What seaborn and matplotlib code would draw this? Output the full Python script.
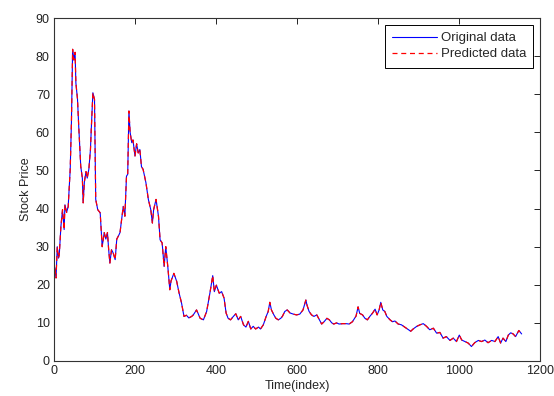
import matplotlib
matplotlib.use("Agg")
import matplotlib.pyplot as plt
import pandas as pd
import seaborn as sns

# values
time_index = [
    0, 2, 5, 8, 11, 13, 17, 21, 25, 27, 31, 35, 40, 43, 46, 49, 52, 54, 58, 61,
    66, 70, 72, 75, 79, 82, 86, 90, 92, 96, 100, 103, 108, 114, 117, 119, 124, 128, 132, 135,
    138, 142, 146, 151, 155, 159, 163, 167, 171, 175, 179, 182, 185, 188, 192, 195, 200, 204, 208, 212,
    216, 220, 227, 233, 239, 243, 246, 252, 258, 262, 267, 272, 276, 281, 286, 289, 296, 303, 309, 315,
    321, 327, 333, 340, 344, 352, 361, 369, 377, 385, 392, 396, 401, 408, 414, 420, 425, 430, 436, 443,
    449, 455, 461, 468, 474, 480, 486, 492, 498, 505, 510, 517, 524, 529, 533, 537, 543, 548, 554, 560,
    564, 570, 576, 583, 591, 599, 607, 615, 622, 625, 630, 636, 642, 649, 655, 661, 667, 674, 680, 686,
    691, 698, 704, 713, 721, 729, 737, 746, 751, 755, 762, 768, 774, 780, 787, 793, 798, 803, 807, 812,
    817, 822, 830, 836, 842, 850, 858, 866, 875, 881, 887, 896, 904, 912, 920, 928, 937, 945, 953, 961,
    969, 978, 986, 994, 1001, 1007, 1015, 1023, 1031, 1039, 1048, 1056, 1064, 1072, 1081, 1089, 1097, 1103, 1109, 1116,
    1122, 1128, 1134, 1140, 1148, 1155,
]
original_price = [
    22.5, 24.5, 21.8, 30, 27, 27.9, 35.3, 39.7, 34.5, 41, 39, 40.5, 50.3, 62.6, 81.8, 79, 81, 73, 68.7, 61.7,
    51.1, 48, 41.5, 47, 49.7, 48, 50.3, 55.5, 60.8, 70.4, 68.6, 42.4, 39.7, 38.9, 33.7, 30, 33.7, 32, 33.7, 29.2,
    25.7, 29.2, 28.4, 26.6, 32, 32.8, 33.7, 37.1, 40.6, 38, 48.5, 49, 65.6, 60, 57.3, 58, 53.8, 57, 54.6, 55.5,
    51, 50.3, 46.8, 42.4, 39.7, 36.2, 39.7, 42.4, 38, 31.8, 31, 24.8, 30, 24.8, 18.7, 21, 23, 20.9, 17.8, 15.2,
    11.7, 12, 11.3, 11.7, 12.1, 13.4, 11.2, 10.8, 13, 17.8, 22.4, 18.2, 19.9, 17.8, 18.2, 16.5, 12.6, 11.2, 10.8, 11.7,
    12.4, 10.8, 11.7, 9.5, 8.9, 10.4, 8.4, 9.1, 8.4, 8.9, 8.4, 9.5, 11.7, 13, 15.4, 13.4, 12.1, 11.2, 10.8, 11.2,
    11.7, 13, 13.4, 12.6, 12.3, 12.1, 12.3, 13.4, 16, 14.6, 13, 12.1, 11.7, 12.1, 10.9, 9.7, 10.3, 11.2, 10.8, 10,
    9.7, 10, 9.7, 9.8, 9.8, 9.7, 10.3, 11.8, 14.2, 12.5, 12.1, 11.2, 10.8, 11.7, 12.6, 13.6, 12.1, 13.4, 15.4, 13.4,
    13, 11.7, 10.8, 10.3, 10.5, 9.7, 9.5, 8.9, 8.2, 7.8, 8.4, 9.1, 9.5, 9.8, 9.1, 8.2, 8.6, 7.3, 7.5, 6,
    6.4, 5.4, 6, 5.1, 6.8, 5.5, 5.1, 4.7, 3.8, 4.8, 5.4, 5.1, 5.5, 4.8, 5.4, 5.1, 6.4, 4.7, 6, 5.1,
    6.8, 7.4, 7.1, 6.4, 8, 7.1,
]
# the red dashed prediction sits on top of the blue line at this resolution
predicted_price = [
    22.5, 24.5, 21.8, 30, 27, 27.9, 35.3, 39.7, 34.5, 41, 39, 40.5, 50.3, 62.6, 81.8, 79, 81, 73, 68.7, 61.7,
    51.1, 48, 41.5, 47, 49.7, 48, 50.3, 55.5, 60.8, 70.4, 68.6, 42.4, 39.7, 38.9, 33.7, 30, 33.7, 32, 33.7, 29.2,
    25.7, 29.2, 28.4, 26.6, 32, 32.8, 33.7, 37.1, 40.6, 38, 48.5, 49, 65.6, 60, 57.3, 58, 53.8, 57, 54.6, 55.5,
    51, 50.3, 46.8, 42.4, 39.7, 36.2, 39.7, 42.4, 38, 31.8, 31, 24.8, 30, 24.8, 18.7, 21, 23, 20.9, 17.8, 15.2,
    11.7, 12, 11.3, 11.7, 12.1, 13.4, 11.2, 10.8, 13, 17.8, 22.4, 18.2, 19.9, 17.8, 18.2, 16.5, 12.6, 11.2, 10.8, 11.7,
    12.4, 10.8, 11.7, 9.5, 8.9, 10.4, 8.4, 9.1, 8.4, 8.9, 8.4, 9.5, 11.7, 13, 15.4, 13.4, 12.1, 11.2, 10.8, 11.2,
    11.7, 13, 13.4, 12.6, 12.3, 12.1, 12.3, 13.4, 16, 14.6, 13, 12.1, 11.7, 12.1, 10.9, 9.7, 10.3, 11.2, 10.8, 10,
    9.7, 10, 9.7, 9.8, 9.8, 9.7, 10.3, 11.8, 14.2, 12.5, 12.1, 11.2, 10.8, 11.7, 12.6, 13.6, 12.1, 13.4, 15.4, 13.4,
    13, 11.7, 10.8, 10.3, 10.5, 9.7, 9.5, 8.9, 8.2, 7.8, 8.4, 9.1, 9.5, 9.8, 9.1, 8.2, 8.6, 7.3, 7.5, 6,
    6.4, 5.4, 6, 5.1, 6.8, 5.5, 5.1, 4.7, 3.8, 4.8, 5.4, 5.1, 5.5, 4.8, 5.4, 5.1, 6.4, 4.7, 6, 5.1,
    6.8, 7.4, 7.1, 6.4, 8, 7.1,
]
x_ticks = [0, 200, 400, 600, 800, 1000, 1200]
y_ticks = [0, 10, 20, 30, 40, 50, 60, 70, 80, 90]

df = pd.DataFrame({"t": time_index, "orig": original_price, "pred": predicted_price})

sns.set_style("white")
plt.rcParams["font.family"] = ["Liberation Sans", "DejaVu Sans"]
plt.rcParams["xtick.direction"] = "in"
plt.rcParams["ytick.direction"] = "in"

fig = plt.figure(figsize=(5.54, 3.96), dpi=100)
ax = fig.add_axes([0.0975, 0.0884, 0.877, 0.866])

sns.lineplot(data=df, x="t", y="orig", ax=ax, color="blue", lw=0.8, label="Original data")
sns.lineplot(data=df, x="t", y="pred", ax=ax, color="red", lw=0.9, label="Predicted data")
ax.lines[1].set_dashes([4, 3])

ax.set_xlim(0, 1200)
ax.set_ylim(0, 90)
ax.set_xticks(x_ticks)
ax.set_yticks(y_ticks)
ax.tick_params(labelsize=9, length=4, width=0.6, top=True, right=True, colors="black", pad=3,
               labelcolor="#222222")
for s in ax.spines.values():
    s.set_color("#333333")
    s.set_linewidth(0.8)
ax.set_xlabel("Time(index)", fontsize=9, labelpad=2)
ax.set_ylabel("Stock Price", fontsize=9, labelpad=3)

leg = ax.legend(loc="upper right", fontsize=9.5, frameon=True, fancybox=False, framealpha=1,
                edgecolor="black", handlelength=3.4, handletextpad=0.3, borderaxespad=0.5,
                borderpad=0.55, labelspacing=0.3)
leg.get_frame().set_linewidth(0.7)

fig.savefig("out.png", dpi=100)
